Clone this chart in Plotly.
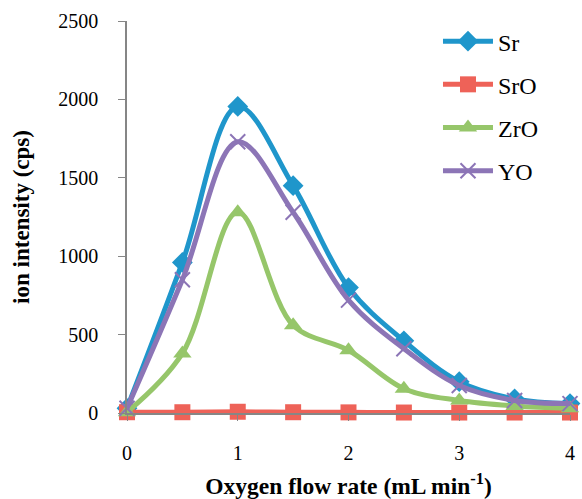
import plotly.graph_objects as go

flow = [0, 0.5, 1, 1.5, 2, 2.5, 3, 3.5, 4]
sr = [30, 960, 1955, 1450, 800, 460, 200, 90, 60]
sro = [5, 5, 8, 5, 4, 3, 3, 3, 3]
zro = [5, 380, 1280, 560, 400, 155, 80, 45, 30]
yo = [30, 850, 1730, 1280, 720, 410, 175, 80, 60]

series = [
    ("Sr", sr, "rgb(31,150,203)", "diamond", 16, None),
    ("SrO", sro, "rgb(238,98,88)", "square", 16, None),
    ("ZrO", zro, "rgb(150,198,106)", "triangle-up", 16, None),
    ("YO", yo, "rgb(140,117,182)", "x-thin", 15, 2),
]

font_family = "Liberation Serif"

fig = go.Figure()
for i, (name, vals, color, sym, size, lw) in enumerate(series):
    marker = dict(symbol=sym, size=size, color=color)
    if lw:
        marker["line"] = dict(color=color, width=lw)
    fig.add_trace(go.Scatter(
        x=flow, y=vals, name=name, mode="lines+markers",
        line=dict(color=color, width=5, shape="spline", smoothing=1.0),
        marker=marker, cliponaxis=False, legendgroup=f"g{i}",
    ))

fig.update_layout(
    width=582, height=499,
    margin=dict(l=127, r=12, t=21, b=86, autoexpand=False),
    paper_bgcolor="white", plot_bgcolor="white",
    font=dict(family=font_family, size=20, color="black"),
    showlegend=True,
    legend=dict(
        x=0.702, y=1.005, xanchor="left", yanchor="top",
        font=dict(family=font_family, size=24), tracegroupgap=9, itemwidth=50,
        bgcolor="rgba(0,0,0,0)",
    ),
    xaxis=dict(
        range=[0, 4], tickvals=[0, 1, 2, 3, 4], showgrid=False, zeroline=False,
        showline=True, linecolor="rgb(134,134,134)", linewidth=1.5,
        ticks="outside", ticklen=6, tickcolor="rgb(134,134,134)",
        tickfont=dict(family=font_family, size=20), ticklabelstandoff=15,
        automargin=False,
        title=dict(text="<b>Oxygen flow rate (mL min<sup>-1</sup>)</b>",
                   font=dict(family=font_family, size=23.5), standoff=16),
    ),
    yaxis=dict(
        range=[0, 2500], tickvals=[0, 500, 1000, 1500, 2000, 2500],
        showgrid=False, zeroline=False,
        showline=True, linecolor="rgb(134,134,134)", linewidth=1.5,
        ticks="outside", ticklen=7, tickcolor="rgb(134,134,134)",
        tickfont=dict(family=font_family, size=20), ticklabelstandoff=16,
        automargin=False,
        title=dict(text="<b>ion intensity (cps)</b>",
                   font=dict(family=font_family, size=23), standoff=22),
    ),
)

fig.write_html("out.html")
